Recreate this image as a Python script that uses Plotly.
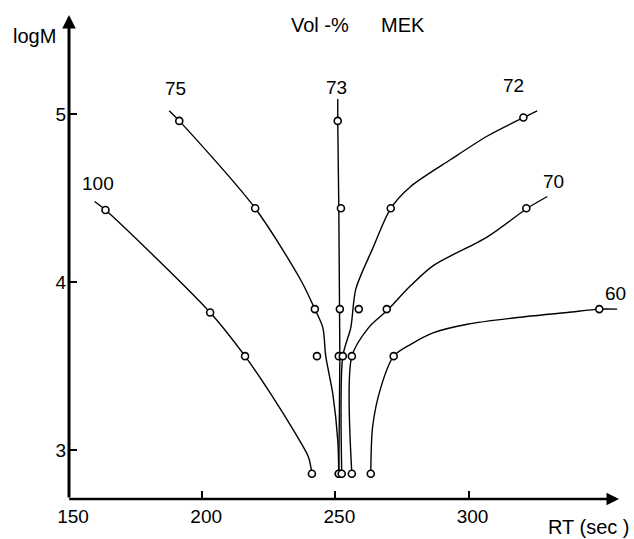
import plotly.graph_objects as go

# ---- data (RT in sec, logM) ----
series_names = ["100", "75", "73", "72", "70", "60"]

# measured points (open circles)
m100_rt = [163.7, 203.0, 216.1, 241.2]
m100_lm = [4.43, 3.82, 3.56, 2.86]
m75_rt = [191.4, 219.9, 242.3, 243.1, 251.3]
m75_lm = [4.96, 4.44, 3.84, 3.56, 2.86]
m73_rt = [250.9, 252.1, 251.7, 251.3, 251.3]
m73_lm = [4.96, 4.44, 3.84, 3.56, 2.86]
m72_rt = [320.6, 270.8, 258.8, 252.8, 252.4]
m72_lm = [4.98, 4.44, 3.84, 3.56, 2.86]
m70_rt = [321.7, 269.3, 256.2, 256.2]
m70_lm = [4.44, 3.84, 3.56, 2.86]
m60_rt = [349.1, 271.9, 263.3]
m60_lm = [3.84, 3.56, 2.86]

# hand-drawn smooth curves
c100_rt = [159.6, 163.7, 203.0, 216.1, 226.0, 235.0, 239.9, 241.2]
c100_lm = [4.48, 4.43, 3.82, 3.56, 3.33, 3.10, 2.96, 2.86]
c75_rt = [187.6, 191.4, 219.9, 237.1, 242.3, 245.3, 246.4, 249.1, 250.9, 251.3]
c75_lm = [5.02, 4.96, 4.44, 4.01, 3.84, 3.73, 3.56, 3.33, 3.06, 2.86]
c73_rt = [250.9, 250.9, 251.3, 251.7, 251.7, 251.3]
c73_lm = [5.09, 4.96, 4.44, 3.84, 3.56, 2.86]
c72_rt = [252.4, 252.8, 255.8, 257.7, 264.0, 270.8, 278.3, 293.3, 307.1, 320.6, 325.8]
c72_lm = [2.86, 3.56, 3.73, 3.96, 4.20, 4.44, 4.57, 4.73, 4.87, 4.98, 5.02]
c70_rt = [256.2, 256.2, 262.5, 269.3, 278.3, 286.9, 307.1, 322.1, 329.6]
c70_lm = [2.86, 3.56, 3.73, 3.83, 3.98, 4.10, 4.27, 4.44, 4.51]
c60_rt = [263.3, 264.0, 267.0, 271.9, 278.3, 286.9, 299.6, 318.4, 337.1, 349.1, 355.8]
c60_lm = [2.86, 3.14, 3.37, 3.56, 3.63, 3.70, 3.75, 3.79, 3.82, 3.84, 3.84]

# curve label positions
label_rt = [161.0, 189.9, 250.6, 316.9, 331.8, 355.1]
label_lm = [4.59, 5.15, 5.16, 5.17, 4.60, 3.93]

x_ticks = [150, 200, 250, 300]
y_ticks = [3, 4, 5]

curves = [(c100_rt, c100_lm, "spline"), (c75_rt, c75_lm, "spline"),
          (c73_rt, c73_lm, "linear"), (c72_rt, c72_lm, "spline"),
          (c70_rt, c70_lm, "spline"), (c60_rt, c60_lm, "spline")]
markers = [(m100_rt, m100_lm), (m75_rt, m75_lm), (m73_rt, m73_lm),
           (m72_rt, m72_lm), (m70_rt, m70_lm), (m60_rt, m60_lm)]

FONT = "Liberation Sans"
X0, X1 = 150, 356.5
Y0, Y1 = 2.71, 5.59

fig = go.Figure()
for (xs, ys, shp), name in zip(curves, series_names):
    line = dict(color="black", width=1.4, shape=shp)
    if shp == "spline":
        line["smoothing"] = 0.8
    fig.add_trace(go.Scatter(x=xs, y=ys, mode="lines", line=line,
                             name=name, showlegend=False, hoverinfo="skip"))
for (xs, ys), name in zip(markers, series_names):
    fig.add_trace(go.Scatter(x=xs, y=ys, mode="markers", name=name,
                             showlegend=False,
                             marker=dict(symbol="circle", size=7, color="white",
                                         line=dict(color="black", width=1.6))))

annotations = []
for name, x, y in zip(series_names, label_rt, label_lm):
    annotations.append(dict(x=x, y=y, xref="x", yref="y", text=name,
                            showarrow=False, xanchor="center", yanchor="middle",
                            font=dict(family=FONT, size=19, color="black")))

# axes drawn as arrows
annotations.append(dict(x=X0, y=Y1, xref="x", yref="y", ax=X0, ay=Y0,
                        axref="x", ayref="y", text="", showarrow=True,
                        arrowhead=2, arrowsize=0.9, arrowwidth=3, arrowcolor="black"))
annotations.append(dict(x=X1, y=Y0, xref="x", yref="y", ax=X0 - 0.5, ay=Y0,
                        axref="x", ayref="y", text="", showarrow=True,
                        arrowhead=2, arrowsize=1.0, arrowwidth=2.5, arrowcolor="black"))

def paper_text(x, y, text):
    return dict(x=x, y=y, xref="paper", yref="paper", text=text,
                showarrow=False, xanchor="center", yanchor="middle",
                font=dict(family=FONT, size=20, color="black"))

annotations += [
    paper_text(0.456, 0.979, "Vol -%"),
    paper_text(0.608, 0.979, "MEK"),
    paper_text(-0.062, 0.957, "logM"),
    paper_text(0.945, -0.0575, "RT (sec )"),
]

fig.update_layout(
    width=634, height=539,
    margin=dict(l=69, r=15, t=15, b=37),
    paper_bgcolor="white", plot_bgcolor="white",
    showlegend=False,
    annotations=annotations,
    xaxis=dict(range=[X0, X1], tickvals=x_ticks, ticktext=[str(v) for v in x_ticks],
               ticks="inside", ticklen=8, tickwidth=2, tickcolor="black",
               showgrid=False, zeroline=False, showline=False,
               ticklabelshift=4, ticklabelstandoff=4,
               tickfont=dict(family=FONT, size=19, color="black")),
    yaxis=dict(range=[Y0, Y1], tickvals=y_ticks, ticktext=[str(v) for v in y_ticks],
               ticks="inside", ticklen=8, tickwidth=2, tickcolor="black",
               showgrid=False, zeroline=False, showline=False,
               ticklabelstandoff=2,
               tickfont=dict(family=FONT, size=19, color="black")),
)

fig.write_html("out.html", config={"displayModeBar": False},
               post_script="document.body.style.margin='0';document.body.style.overflow='hidden';")
